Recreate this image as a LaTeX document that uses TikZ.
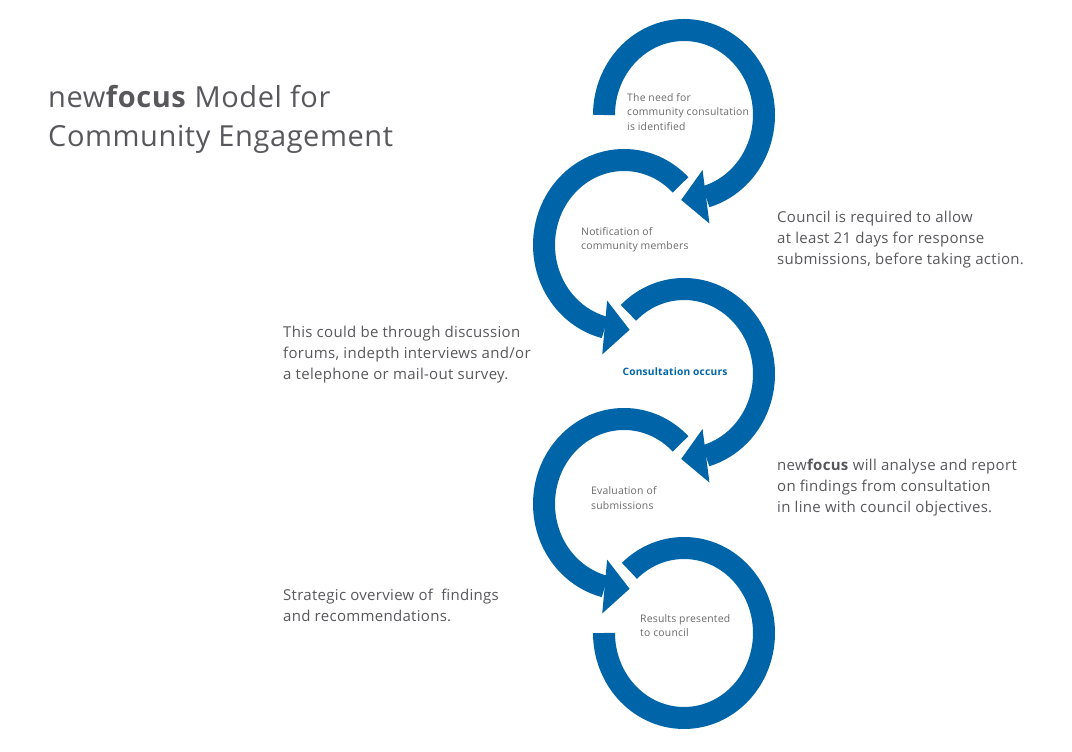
\documentclass[tikz,border=0pt]{standalone}
\usepackage{fontspec}
\setmainfont{Open Sans}[LetterSpace=2]
\usepackage{tikz}
\usetikzlibrary{positioning, arrows.meta, bending, calc}
\definecolor{ringblue}{RGB}{0,101,168}
\definecolor{textgrey}{RGB}{88,88,92}
\definecolor{labelgrey}{RGB}{105,105,108}

\begin{document}
\begin{tikzpicture}[x=1pt, y=1pt, font=\fontsize{15}{21}\selectfont, text=textgrey,
    ring/.style={ringblue, line width=22pt},
    ringarrow/.style={ring, -{Triangle[length=25pt, width=54pt, line width=0pt]}},
    steplabel/.style={font=\fontsize{10.4}{14.5}\selectfont, text=labelgrey, align=left, inner sep=0pt, anchor=west},
    note/.style={align=left, inner sep=0pt, anchor=west}]
  \useasboundingbox (0,0) rectangle (1072,752);
  \coordinate (c1) at (684,637);
  \coordinate (c2) at (624,507);
  \coordinate (c3) at (684,378);
  \coordinate (c4) at (624,248);
  \coordinate (c5) at (684,119);

  \draw[ringarrow] ([shift={(180:80 and 85)}]c1) arc[start angle=180, end angle=-92, x radius=80, y radius=85];
  \draw[ringarrow] ([shift={(45:80 and 85)}]c2) arc[start angle=45, end angle=274, x radius=80, y radius=85];
  \draw[ringarrow] ([shift={(134:80 and 85)}]c3) arc[start angle=134, end angle=-92, x radius=80, y radius=85];
  \draw[ringarrow] ([shift={(45:80 and 85)}]c4) arc[start angle=45, end angle=274, x radius=80, y radius=85];
  \draw[ring] ([shift={(133:80 and 85)}]c5) arc[start angle=133, end angle=-180, x radius=80, y radius=85];

  \node[steplabel] (need) at (627,640) {The need for\\community consultation\\is identified};
  \node[steplabel] (notify) at (581,512) {Notification of\\community members};
  \node[steplabel, anchor=center, text=ringblue, font=\fontsize{10.2}{14.5}\selectfont\bfseries] (consult) at (675,380) {Consultation occurs};
  \node[steplabel] (evaluate) at (591,254) {Evaluation of\\submissions};
  \node[steplabel] (results) at (640,126.5) {Results presented\\to council};

  \node[note, font=\fontsize{29}{39}\selectfont] (title) at (48,633) {new\textbf{focus} Model for\\Community Engagement};
  \node[note] (council) at (777,512) {Council is required to allow\\at least 21 days for response\\submissions, before taking action.};
  \node[note] (forums) at (283,397.5) {This could be through discussion\\forums, indepth interviews and/or\\a telephone or mail-out survey.};
  \node[note] (analyse) at (777,264) {new\textbf{focus} will analyse and report\\on findings from consultation\\in line with council objectives.};
  \node[note] (overview) at (283,147) {Strategic overview of~ findings\\and recommendations.};
\end{tikzpicture}
\end{document}
